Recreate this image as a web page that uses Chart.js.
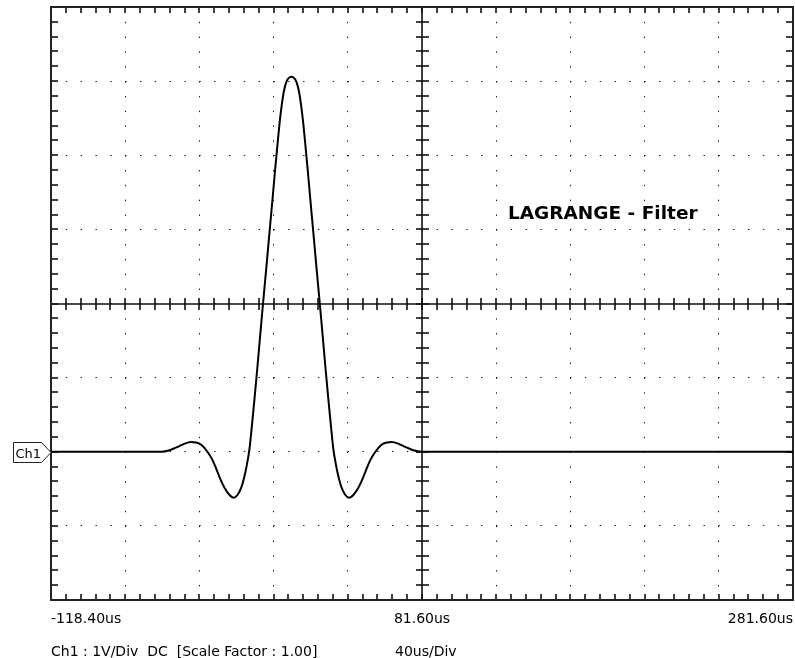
<!DOCTYPE html>
<html>

<head>
  <title>LAGRANGE - Filter</title>
  <script src="https://cdn.jsdelivr.net/npm/chart.js@4.4.1/dist/chart.umd.min.js"></script>
  <style>
    body { margin: 0; background: #fff; }
  </style>
</head>

<body>
  <canvas id="scope" width="795" height="658"></canvas>
  <script>
    // Ch1 trace: time in us, level in V (1V/Div)
    var timeUs = [-118.4,
      -58.8, -54.5, -49.8, -46.3, -42.8, -40.3, -37.4, -33.8, -31.6, -29.3,
      -27.1, -24.8, -22.3, -19.9, -17.8, -15.8, -14.4, -13.0, -11.4, -10.1,
      -8.6, -7.1, -5.6, -4.1, -2.7, -1.4, -0.1, 1.2, 2.4, 3.6,
      4.8, 6.0, 7.2, 8.5, 9.7, 11.2, 12.7, 13.9, 15.2, 16.4,
      17.6, 18.8, 20.0, 21.2, 22.5, 23.8, 25.1, 26.5, 28.0, 29.5,
      31.0, 32.5, 33.8, 35.4, 36.8, 38.2, 40.2, 42.3, 44.7, 47.2,
      49.5, 51.7, 54.0, 56.2, 59.8, 62.7, 65.2, 68.7, 72.2, 76.9,
      81.2, 281.6];
    var ch1Volts = [0,
      0, 0.02, 0.07, 0.11, 0.13, 0.125, 0.095, -0.01, -0.10, -0.23,
      -0.37, -0.49, -0.58, -0.62, -0.58, -0.48, -0.36, -0.20, 0.04, 0.35,
      0.74, 1.15, 1.58, 2.00, 2.38, 2.74, 3.10, 3.46, 3.80, 4.12,
      4.43, 4.68, 4.87, 4.99, 5.04, 5.06, 5.04, 4.99, 4.87, 4.68,
      4.43, 4.12, 3.80, 3.46, 3.10, 2.74, 2.38, 2.00, 1.58, 1.15,
      0.74, 0.35, 0.04, -0.20, -0.36, -0.48, -0.58, -0.62, -0.58, -0.49,
      -0.37, -0.23, -0.10, -0.01, 0.095, 0.125, 0.13, 0.11, 0.07, 0.02,
      0, 0];

    var xTickValues = [-118.4, -78.4, -38.4, 1.6, 41.6, 81.6, 121.6, 161.6, 201.6, 241.6, 281.6];
    var xTickLabels = ['-118.40us', '', '', '', '', '81.60us', '', '', '', '', '281.60us'];
    var yTickValues = [-2, -1, 0, 1, 2, 3, 4, 5, 6];

    var infoLeft = 'Ch1 : 1V/Div  DC  [Scale Factor : 1.00]';
    var infoRight = '40us/Div';
    var filterName = 'LAGRANGE - Filter';

    var points = timeUs.map(function (t, i) { return { x: t, y: ch1Volts[i] }; });

    function line(ctx, x1, y1, x2, y2) {
      ctx.beginPath();
      ctx.moveTo(x1, y1);
      ctx.lineTo(x2, y2);
      ctx.stroke();
    }

    // frame, centre cross and the small division ticks of the scope screen
    var scopeFrame = {
      id: 'scopeFrame',
      beforeDatasetsDraw: function (chart) {
        var ctx = chart.ctx, a = chart.chartArea;
        var xs = chart.scales.x, ys = chart.scales.y;
        var cx = Math.round(xs.getPixelForValue(xTickValues[5]));
        var cy = Math.round(ys.getPixelForValue(yTickValues[4]));
        ctx.save();
        ctx.strokeStyle = '#111';
        ctx.lineWidth = 1.6;
        line(ctx, cx, a.top, cx, a.bottom);
        line(ctx, a.left, cy, a.right, cy);
        for (var i = 0; i <= 50; i++) {
          var px = Math.round(xs.getPixelForValue(xTickValues[0] + i * 8));
          line(ctx, px, a.top, px, a.top + 6);
          line(ctx, px, a.bottom - 6, px, a.bottom);
          line(ctx, px, cy - 6, px, cy + 6);
        }
        for (var j = 0; j <= 40; j++) {
          var py = Math.round(ys.getPixelForValue(yTickValues[0] + j * 0.2));
          line(ctx, a.left, py, a.left + 7, py);
          line(ctx, a.right - 7, py, a.right, py);
          line(ctx, cx - 6, py, cx + 7, py);
        }
        ctx.strokeStyle = '#222';
        ctx.lineWidth = 2;
        ctx.strokeRect(a.left, a.top, a.right - a.left, a.bottom - a.top);
        ctx.restore();
      },
      afterDraw: function (chart) {
        var ctx = chart.ctx, a = chart.chartArea;
        var y0 = Math.round(chart.scales.y.getPixelForValue(0)) + 0.5;
        ctx.save();
        // Ch1 level marker
        ctx.beginPath();
        ctx.moveTo(13.5, y0 - 10);
        ctx.lineTo(41.5, y0 - 10);
        ctx.lineTo(a.left, y0);
        ctx.lineTo(41.5, y0 + 10);
        ctx.lineTo(13.5, y0 + 10);
        ctx.closePath();
        ctx.fillStyle = '#fff';
        ctx.fill();
        ctx.strokeStyle = '#222';
        ctx.lineWidth = 1;
        ctx.stroke();
        ctx.fillStyle = '#000';
        ctx.textBaseline = 'alphabetic';
        ctx.font = '13px "DejaVu Sans"';
        ctx.fillText('Ch1', 15.5, y0 + 5);

        ctx.font = 'bold 18.5px "DejaVu Sans"';
        ctx.fillText(filterName, 508, 218.5);

        ctx.font = '14px "DejaVu Sans"';
        ctx.fillText(infoLeft, a.left, 656);
        ctx.fillText(infoRight, 395, 656);
        ctx.restore();
      }
    };

    new Chart(document.getElementById('scope'), {
      type: 'line',
      data: {
        datasets: [{
          data: points,
          borderColor: '#000',
          borderWidth: 2,
          pointRadius: 0,
          cubicInterpolationMode: 'monotone',
          fill: false
        }]
      },
      options: {
        responsive: false,
        animation: false,
        layout: { padding: { left: 51, right: 2, top: 7, bottom: 28 } },
        plugins: { legend: { display: false }, tooltip: { enabled: false } },
        scales: {
          x: {
            type: 'linear',
            min: xTickValues[0],
            max: xTickValues[xTickValues.length - 1],
            afterBuildTicks: function (scale) {
              scale.ticks = xTickValues.map(function (v) { return { value: v }; });
            },
            afterFit: function (scale) {
              scale.height = 30;
              scale.paddingLeft = 0;
              scale.paddingRight = 0;
            },
            border: { display: false, dash: [1.4, 13.42] },
            grid: { color: '#111', lineWidth: 1, drawTicks: false },
            ticks: {
              autoSkip: false,
              maxRotation: 0,
              align: 'inner',
              padding: 11,
              color: '#000',
              font: { family: 'DejaVu Sans', size: 14 },
              callback: function (value, index) { return xTickLabels[index]; }
            }
          },
          y: {
            min: yTickValues[0],
            max: yTickValues[yTickValues.length - 1],
            afterBuildTicks: function (scale) {
              scale.ticks = yTickValues.map(function (v) { return { value: v }; });
            },
            afterFit: function (scale) {
              scale.width = 0;
              scale.paddingTop = 0;
              scale.paddingBottom = 0;
            },
            border: { display: false, dash: [1.4, 13.43] },
            grid: { color: '#111', lineWidth: 1, drawTicks: false },
            ticks: { display: false }
          }
        }
      },
      plugins: [scopeFrame]
    });
  </script>
</body>

</html>
